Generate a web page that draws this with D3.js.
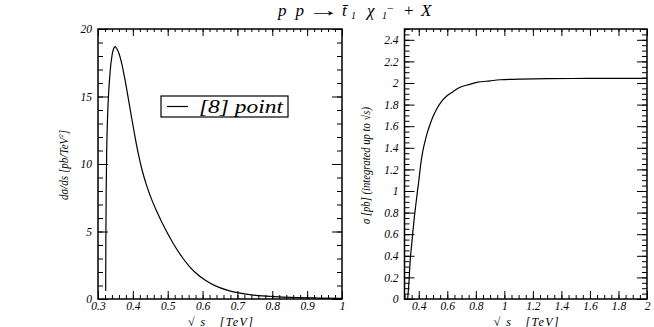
<!DOCTYPE html>
<html>
<head>
<meta charset="utf-8">
<script src="https://cdn.jsdelivr.net/npm/d3@7"></script>
<style>
  html, body { margin: 0; padding: 0; background: #fff; }
  svg { display: block; }
</style>
</head>
<body>
<div id="chart"></div>
<script>
// differential cross section, left panel
const diffX = [0.322, 0.3225, 0.3235, 0.325, 0.3275, 0.33, 0.335, 0.34, 0.345, 0.349, 0.355, 0.36, 0.368, 0.377,
  0.387, 0.397, 0.407, 0.417, 0.427, 0.438, 0.45, 0.47, 0.493, 0.515, 0.541, 0.56, 0.58, 0.608, 0.637, 0.67,
  0.704, 0.74, 0.772, 0.82, 0.868, 0.93, 1.0];
const diffY = [0.6, 4, 8, 11, 13.5, 15, 16.9, 18.0, 18.55, 18.7, 18.5, 18.2, 17.45, 16.3,
  14.85, 13.35, 11.9, 10.6, 9.5, 8.53, 7.64, 6.4, 5.18, 4.15, 3.11, 2.48, 1.94, 1.38, 0.97, 0.66,
  0.45, 0.31, 0.23, 0.155, 0.11, 0.075, 0.05];

// integrated cross section, right panel
const intX = [0.322, 0.33, 0.34, 0.35, 0.36, 0.37, 0.38, 0.39, 0.40, 0.414, 0.43, 0.444, 0.46, 0.48, 0.50,
  0.526, 0.56, 0.596, 0.64, 0.69, 0.75, 0.806, 0.9, 0.97, 1.1, 1.3, 1.6, 2.0];
const intY = [0, 0.13, 0.36, 0.5, 0.64, 0.77, 0.88, 0.99, 1.09, 1.25, 1.38, 1.46, 1.54, 1.62, 1.69,
  1.76, 1.83, 1.88, 1.92, 1.96, 1.985, 2.005, 2.02, 2.03, 2.035, 2.04, 2.042, 2.043];

const leftXTicks = [0.3, 0.4, 0.5, 0.6, 0.7, 0.8, 0.9, 1.0];
const leftYTicks = [0, 5, 10, 15, 20];
const rightXTicks = [0.4, 0.6, 0.8, 1.0, 1.2, 1.4, 1.6, 1.8, 2.0];
const rightYTicks = [0, 0.2, 0.4, 0.6, 0.8, 1.0, 1.2, 1.4, 1.6, 1.8, 2.0, 2.2, 2.4];
const legendLabel = '[8] point';

const SERIF = '"Liberation Serif", "Times New Roman", "DejaVu Serif", serif';
const W = 654, H = 327;
const svg = d3.select('#chart').append('svg').attr('width', W).attr('height', H)
  .attr('font-family', SERIF).attr('font-style', 'italic');
const fmt = d3.format('~g');

function range(a, b, step) {
  const out = [];
  const n = Math.round((b - a) / step);
  for (let i = 0; i <= n; i++) out.push(+(a + i * step).toFixed(4));
  return out;
}

function drawPanel(cfg) {
  const x = d3.scaleLinear().domain(cfg.xDomain).range([cfg.x0, cfg.x1]);
  const y = d3.scaleLinear().domain(cfg.yDomain).range([cfg.y1, cfg.y0]);
  const g = svg.append('g');

  const tickGroup = (axis, ty, tx, vals, len, labels) => {
    const a = g.append('g').attr('transform', `translate(${tx},${ty})`)
      .call(axis.tickValues(vals).tickSizeInner(-len).tickSizeOuter(0)
        .tickFormat(labels ? fmt : () => ''));
    a.attr('font-family', SERIF).attr('font-size', 11.5);
    a.select('.domain').remove();
    a.selectAll('line').attr('stroke', '#000').attr('stroke-width', 1);
    a.selectAll('text').attr('fill', '#000').attr('font-style', 'italic');
    return a;
  };

  // bottom
  tickGroup(d3.axisBottom(x), cfg.y1, 0, cfg.xMinor, cfg.xMinorLen, false);
  const bxM = tickGroup(d3.axisBottom(x), cfg.y1, 0, cfg.xTicks, cfg.xMajorLen, true);
  bxM.selectAll('text').attr('y', 2).attr('dy', '0.75em');
  // top
  tickGroup(d3.axisTop(x), cfg.y0, 0, cfg.xMinor, cfg.xMinorLen - 1, false);
  tickGroup(d3.axisTop(x), cfg.y0, 0, cfg.xTicks, cfg.xMajorLen - 1, false);
  // left
  tickGroup(d3.axisLeft(y), 0, cfg.x0, cfg.yMinor, cfg.yMinorLen, false);
  const ly = tickGroup(d3.axisLeft(y), 0, cfg.x0, cfg.yTicks, cfg.yMajorLen, true);
  ly.selectAll('text').attr('x', -6);
  // right
  tickGroup(d3.axisRight(y), 0, cfg.x1, cfg.yMinor, cfg.yMinorLen, false);
  tickGroup(d3.axisRight(y), 0, cfg.x1, cfg.yTicks, cfg.yMajorLen, false);

  // frame
  g.append('rect')
    .attr('x', cfg.x0).attr('y', cfg.y0)
    .attr('width', cfg.x1 - cfg.x0).attr('height', cfg.y1 - cfg.y0)
    .attr('fill', 'none').attr('stroke', '#000').attr('stroke-width', 1.5);

  // curve
  const line = d3.line()
    .x(d => x(d[0])).y(d => y(d[1]))
    .curve(d3.curveMonotoneX);
  g.append('path')
    .datum(d3.zip(cfg.dataX, cfg.dataY))
    .attr('d', line)
    .attr('fill', 'none').attr('stroke', '#000').attr('stroke-width', 1.2);

  // x title
  g.append('text')
    .attr('x', (cfg.x0 + cfg.x1) / 2 - 32).attr('y', 325.5)
    .attr('font-size', 12)
    .attr('textLength', 65).attr('lengthAdjust', 'spacing')
    .html('<tspan font-style="normal">√</tspan> s&#160;&#160;&#160;[TeV]');

  // y title
  g.append('text')
    .attr('transform', `translate(${cfg.yTitleX},${cfg.yTitleY}) rotate(-90)`)
    .attr('font-size', cfg.yTitleSize)
    .attr('textLength', cfg.yTitleLen).attr('lengthAdjust', 'spacingAndGlyphs')
    .html(cfg.yTitle);

  return { x, y, g };
}

const left = drawPanel({
  x0: 98, x1: 342, y0: 29, y1: 299,
  xDomain: [0.3, 1.0], yDomain: [0, 20],
  xTicks: leftXTicks, xMinor: range(0.3, 1.0, 0.02),
  yTicks: leftYTicks, yMinor: range(0, 20, 1),
  xMajorLen: 8, xMinorLen: 4, yMajorLen: 10, yMinorLen: 5,
  dataX: diffX, dataY: diffY,
  yTitleX: 68, yTitleY: 200, yTitleSize: 12, yTitleLen: 70,
  yTitle: 'dσ/ds [pb/TeV<tspan dy="-5" font-size="7">2</tspan><tspan dy="5">]</tspan>'
});

drawPanel({
  x0: 404.5, x1: 647, y0: 29, y1: 299,
  xDomain: [0.3, 2.0], yDomain: [0, 2.5],
  xTicks: rightXTicks, xMinor: range(0.3, 2.0, 0.05),
  yTicks: rightYTicks, yMinor: range(0, 2.5, 0.05),
  xMajorLen: 8, xMinorLen: 4, yMajorLen: 10, yMinorLen: 5,
  dataX: intX, dataY: intY,
  yTitleX: 370, yTitleY: 224, yTitleSize: 11.5, yTitleLen: 117,
  yTitle: 'σ [pb] (integrated up to <tspan font-style="normal">√</tspan>s)'
});

// legend
const lg = left.g.append('g');
lg.append('rect').attr('x', 161).attr('y', 96).attr('width', 127).attr('height', 21)
  .attr('fill', '#fff').attr('stroke', '#000').attr('stroke-width', 1.2);
lg.append('line').attr('x1', 167).attr('x2', 188).attr('y1', 106.5).attr('y2', 106.5)
  .attr('stroke', '#000').attr('stroke-width', 1.2);
lg.append('text').attr('x', 199).attr('y', 112.5).attr('font-size', 18)
  .attr('textLength', 84).attr('lengthAdjust', 'spacingAndGlyphs').text(legendLabel);

// title, placed piece by piece
const title = svg.append('g').attr('font-size', 17);
title.append('text').attr('x', 278).attr('y', 16)
  .attr('textLength', 26).attr('lengthAdjust', 'spacing').text('p p');
title.append('text').attr('x', 308).attr('y', 16).attr('font-style', 'normal')
  .attr('textLength', 32).attr('lengthAdjust', 'spacingAndGlyphs').text('→');
title.append('text').attr('x', 342).attr('y', 16).text('t\u0304');
title.append('text').attr('x', 351).attr('y', 19).attr('font-size', 10).text('1');
title.append('text').attr('x', 367).attr('y', 16).text('χ');
title.append('text').attr('x', 382).attr('y', 19).attr('font-size', 10).text('1');
title.append('text').attr('x', 387).attr('y', 12).attr('font-size', 12).attr('font-style', 'normal').text('−');
title.append('text').attr('x', 404).attr('y', 16).attr('font-style', 'normal').text('+');
title.append('text').attr('x', 421).attr('y', 16).text('X');
</script>
</body>
</html>
